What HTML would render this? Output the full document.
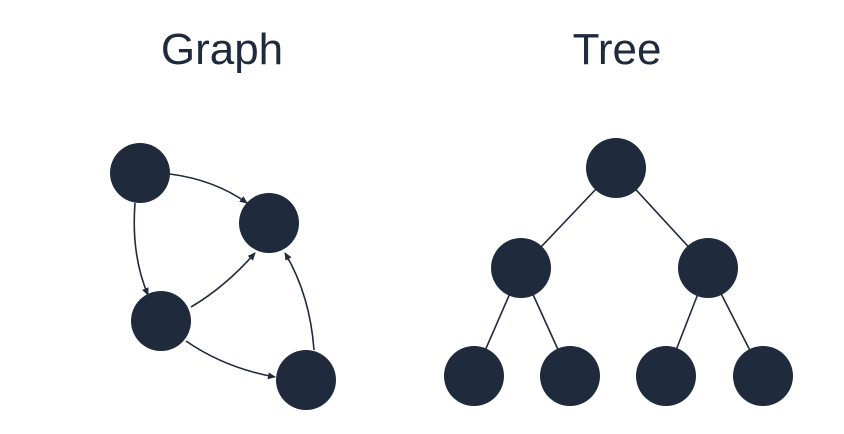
<!DOCTYPE html>
<html><head><style>
html,body{margin:0;padding:0;background:#fff;width:844px;height:434px;overflow:hidden}
</style></head><body>
<svg width="844" height="434" xmlns="http://www.w3.org/2000/svg">
<defs><marker id="a" markerWidth="8" markerHeight="8" refX="7" refY="4" orient="auto" markerUnits="userSpaceOnUse"><path d="M0,0.5 L8,4 L0,7.5 Z" fill="#1f2a3d"/></marker></defs>
<g font-family="'Liberation Sans',sans-serif" font-size="44" fill="#1f2a3d" text-anchor="middle">
<text x="222" y="64">Graph</text><text x="617" y="64">Tree</text></g>
<g stroke="#1f2a3d" stroke-width="1.6" fill="none" marker-end="url(#a)">
<path d="M170,174 Q215,180 247,203"/>
<path d="M135,203 Q131,255 148,295"/>
<path d="M191,307 Q225,287 255,253"/>
<path d="M186,341 Q225,368 275,377"/>
<path d="M314,350 Q310,295 285,253"/>
</g>
<g stroke="#1f2a3d" stroke-width="1.6">
<line x1="616" y1="168" x2="521" y2="268"/><line x1="616" y1="168" x2="708" y2="268"/>
<line x1="521" y1="268" x2="474" y2="376"/><line x1="521" y1="268" x2="570" y2="376"/>
<line x1="708" y1="268" x2="666" y2="376"/><line x1="708" y1="268" x2="763" y2="376"/>
</g>
<g fill="#1f2a3d">
<circle cx="140" cy="173" r="30"/><circle cx="269" cy="223" r="30"/><circle cx="161" cy="321" r="30"/><circle cx="306" cy="380" r="30"/>
<circle cx="616" cy="168" r="30"/><circle cx="521" cy="268" r="30"/><circle cx="708" cy="268" r="30"/>
<circle cx="474" cy="376" r="30"/><circle cx="570" cy="376" r="30"/><circle cx="666" cy="376" r="30"/><circle cx="763" cy="376" r="30"/>
</g>
</svg>
</body></html>
